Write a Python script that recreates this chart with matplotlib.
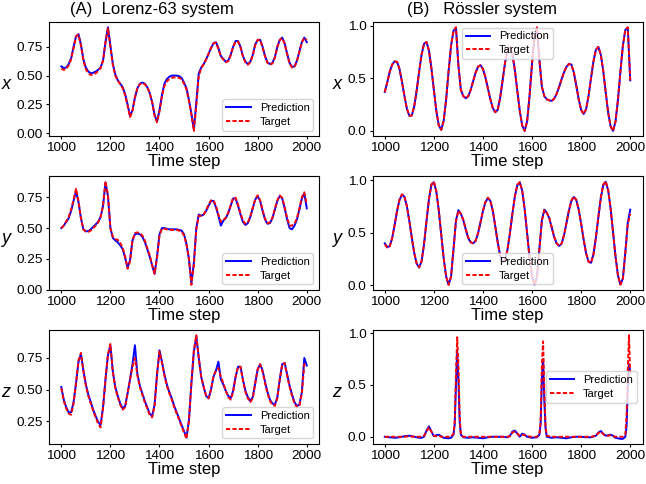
import numpy as np
import matplotlib
matplotlib.use("Agg")
import matplotlib.pyplot as plt

plt.rcParams["font.family"] = ["Liberation Sans", "DejaVu Sans"]

# time steps shared by the Lorenz and Rossler x/y panels (every 10 steps)
time_step = np.arange(1000, 2001, 10)

# (A) Lorenz-63
lorenz_x_pred = [
    0.58, 0.565, 0.57, 0.60, 0.65, 0.75, 0.84, 0.86, 0.77, 0.64,
    0.57, 0.535, 0.52, 0.525, 0.535, 0.55, 0.57, 0.63, 0.79, 0.92,
    0.76, 0.60, 0.51, 0.46, 0.43, 0.40, 0.34, 0.25, 0.15, 0.20,
    0.31, 0.39, 0.43, 0.44, 0.43, 0.40, 0.35, 0.27, 0.16, 0.10,
    0.20, 0.33, 0.43, 0.47, 0.49, 0.50, 0.50, 0.50, 0.495, 0.48,
    0.44, 0.39, 0.29, 0.17, 0.03, 0.27, 0.52, 0.57, 0.60, 0.64,
    0.69, 0.74, 0.78, 0.79, 0.74, 0.67, 0.645, 0.62, 0.63, 0.68,
    0.75, 0.80, 0.80, 0.75, 0.67, 0.62, 0.60, 0.62, 0.68, 0.77,
    0.81, 0.81, 0.75, 0.67, 0.615, 0.60, 0.61, 0.66, 0.75, 0.81,
    0.83, 0.78, 0.69, 0.61, 0.575, 0.58, 0.63, 0.71, 0.79, 0.83,
    0.79,
]
lorenz_x_target = [
    0.56, 0.55, 0.555, 0.59, 0.64, 0.74, 0.84, 0.855, 0.76, 0.63,
    0.555, 0.52, 0.505, 0.51, 0.52, 0.54, 0.565, 0.63, 0.79, 0.91,
    0.75, 0.59, 0.50, 0.455, 0.425, 0.39, 0.33, 0.24, 0.14, 0.19,
    0.31, 0.39, 0.425, 0.435, 0.425, 0.40, 0.35, 0.27, 0.15, 0.095,
    0.19, 0.32, 0.41, 0.45, 0.47, 0.48, 0.485, 0.485, 0.48, 0.47,
    0.43, 0.38, 0.28, 0.16, 0.02, 0.24, 0.50, 0.56, 0.60, 0.64,
    0.69, 0.74, 0.78, 0.785, 0.73, 0.665, 0.64, 0.615, 0.625, 0.675,
    0.75, 0.795, 0.795, 0.745, 0.665, 0.615, 0.595, 0.615, 0.675, 0.765,
    0.81, 0.81, 0.745, 0.665, 0.61, 0.595, 0.605, 0.655, 0.745, 0.81,
    0.825, 0.775, 0.685, 0.605, 0.57, 0.575, 0.625, 0.705, 0.79, 0.825,
    0.81,
]
lorenz_y_pred = [
    0.50, 0.52, 0.55, 0.58, 0.64, 0.72, 0.80, 0.71, 0.58, 0.49,
    0.475, 0.475, 0.49, 0.51, 0.53, 0.55, 0.59, 0.68, 0.87, 0.76,
    0.50, 0.42, 0.40, 0.385, 0.36, 0.33, 0.26, 0.18, 0.24, 0.40,
    0.45, 0.455, 0.45, 0.43, 0.39, 0.33, 0.27, 0.20, 0.13, 0.27,
    0.45, 0.50, 0.50, 0.495, 0.49, 0.49, 0.49, 0.49, 0.485, 0.48,
    0.45, 0.37, 0.25, 0.05, 0.22, 0.50, 0.61, 0.60, 0.61, 0.64,
    0.68, 0.72, 0.72, 0.67, 0.60, 0.52, 0.56, 0.58, 0.62, 0.68,
    0.74, 0.74, 0.68, 0.61, 0.55, 0.525, 0.54, 0.59, 0.66, 0.73,
    0.76, 0.72, 0.64, 0.57, 0.535, 0.54, 0.58, 0.65, 0.72, 0.76,
    0.74, 0.66, 0.57, 0.50, 0.49, 0.52, 0.57, 0.65, 0.74, 0.78,
    0.66,
]
lorenz_y_target = [
    0.50, 0.52, 0.555, 0.59, 0.65, 0.73, 0.82, 0.72, 0.58, 0.49,
    0.47, 0.47, 0.48, 0.50, 0.52, 0.545, 0.59, 0.68, 0.88, 0.77,
    0.50, 0.43, 0.41, 0.405, 0.38, 0.34, 0.27, 0.17, 0.23, 0.40,
    0.46, 0.465, 0.46, 0.44, 0.40, 0.34, 0.28, 0.20, 0.13, 0.26,
    0.44, 0.495, 0.495, 0.49, 0.485, 0.485, 0.485, 0.485, 0.48, 0.47,
    0.44, 0.37, 0.25, 0.04, 0.20, 0.49, 0.60, 0.60, 0.61, 0.645,
    0.69, 0.725, 0.725, 0.68, 0.61, 0.55, 0.565, 0.585, 0.625, 0.685,
    0.745, 0.745, 0.69, 0.62, 0.56, 0.535, 0.545, 0.595, 0.665, 0.735,
    0.765, 0.725, 0.645, 0.575, 0.54, 0.545, 0.585, 0.655, 0.725, 0.765,
    0.745, 0.67, 0.58, 0.52, 0.52, 0.535, 0.58, 0.66, 0.75, 0.79,
    0.69,
]
lorenz_z_pred = [
    0.52, 0.42, 0.36, 0.32, 0.32, 0.40, 0.55, 0.72, 0.78, 0.65,
    0.54, 0.46, 0.40, 0.34, 0.29, 0.245, 0.22, 0.36, 0.58, 0.77,
    0.85, 0.64, 0.52, 0.45, 0.39, 0.35, 0.37, 0.47, 0.58, 0.70,
    0.85, 0.62, 0.53, 0.47, 0.41, 0.36, 0.31, 0.29, 0.38, 0.62,
    0.81, 0.72, 0.62, 0.54, 0.48, 0.43, 0.37, 0.32, 0.27, 0.22,
    0.17, 0.12, 0.26, 0.55, 0.80, 0.92, 0.75, 0.60, 0.52, 0.45,
    0.43, 0.50, 0.60, 0.65, 0.72, 0.58, 0.54, 0.49, 0.45, 0.43,
    0.49, 0.60, 0.68, 0.68, 0.58, 0.49, 0.44, 0.41, 0.44, 0.55,
    0.66, 0.70, 0.65, 0.56, 0.48, 0.42, 0.39, 0.38, 0.44, 0.58,
    0.70, 0.71, 0.62, 0.53, 0.46, 0.40, 0.37, 0.38, 0.48, 0.75,
    0.69,
]
lorenz_z_target = [
    0.51, 0.41, 0.35, 0.31, 0.30, 0.39, 0.55, 0.73, 0.79, 0.65,
    0.53, 0.45, 0.39, 0.33, 0.28, 0.23, 0.20, 0.35, 0.58, 0.78,
    0.86, 0.64, 0.51, 0.44, 0.38, 0.34, 0.36, 0.47, 0.58, 0.68,
    0.75, 0.61, 0.52, 0.46, 0.40, 0.35, 0.30, 0.28, 0.37, 0.62,
    0.80, 0.71, 0.61, 0.53, 0.47, 0.42, 0.36, 0.31, 0.26, 0.21,
    0.16, 0.11, 0.25, 0.55, 0.81, 0.93, 0.75, 0.60, 0.52, 0.45,
    0.43, 0.50, 0.61, 0.65, 0.67, 0.60, 0.55, 0.49, 0.44, 0.42,
    0.48, 0.60, 0.68, 0.68, 0.57, 0.48, 0.43, 0.40, 0.43, 0.55,
    0.66, 0.70, 0.64, 0.55, 0.47, 0.41, 0.38, 0.37, 0.43, 0.58,
    0.70, 0.71, 0.61, 0.52, 0.45, 0.39, 0.36, 0.37, 0.47, 0.70,
    0.71,
]

# (B) Rossler
rossler_x_pred = [
    0.37, 0.46, 0.56, 0.63, 0.66, 0.656, 0.588, 0.468, 0.332, 0.212,
    0.144, 0.146, 0.233, 0.385, 0.564, 0.725, 0.828, 0.845, 0.763, 0.595,
    0.388, 0.19, 0.053, 0.01, 0.097, 0.30, 0.567, 0.81, 0.95, 0.98,
    0.62, 0.39, 0.33, 0.31, 0.329, 0.389, 0.472, 0.553, 0.61, 0.624,
    0.589, 0.509, 0.405, 0.301, 0.218, 0.177, 0.20, 0.315, 0.479, 0.649,
    0.768, 0.799, 0.728, 0.576, 0.38, 0.188, 0.05, 0.0, 0.093, 0.338,
    0.642, 0.887, 0.98, 0.67, 0.42, 0.33, 0.30, 0.29, 0.285, 0.306,
    0.351, 0.416, 0.488, 0.556, 0.608, 0.636, 0.63, 0.557, 0.434, 0.30,
    0.199, 0.16, 0.205, 0.33, 0.497, 0.659, 0.77, 0.798, 0.726, 0.569,
    0.37, 0.176, 0.043, 0.0, 0.088, 0.297, 0.564, 0.81, 0.96, 0.98,
    0.48,
]
rossler_x_target = [
    0.37, 0.46, 0.56, 0.63, 0.66, 0.656, 0.588, 0.468, 0.332, 0.212,
    0.144, 0.146, 0.233, 0.385, 0.564, 0.725, 0.828, 0.845, 0.763, 0.595,
    0.388, 0.19, 0.053, 0.01, 0.097, 0.30, 0.567, 0.81, 0.95, 0.985,
    0.62, 0.39, 0.33, 0.31, 0.329, 0.389, 0.472, 0.553, 0.61, 0.624,
    0.589, 0.509, 0.405, 0.301, 0.218, 0.177, 0.20, 0.315, 0.479, 0.649,
    0.768, 0.799, 0.728, 0.576, 0.38, 0.188, 0.05, 0.0, 0.093, 0.338,
    0.642, 0.887, 0.985, 0.67, 0.42, 0.33, 0.30, 0.29, 0.285, 0.306,
    0.351, 0.416, 0.488, 0.556, 0.608, 0.636, 0.63, 0.557, 0.434, 0.30,
    0.199, 0.16, 0.205, 0.33, 0.497, 0.659, 0.77, 0.798, 0.726, 0.569,
    0.37, 0.176, 0.043, 0.0, 0.088, 0.297, 0.564, 0.81, 0.96, 0.985,
    0.48,
]
rossler_y_pred = [
    0.40, 0.365, 0.373, 0.449, 0.572, 0.706, 0.813, 0.863, 0.842, 0.752,
    0.613, 0.454, 0.308, 0.207, 0.17, 0.23, 0.392, 0.611, 0.817, 0.955,
    0.98, 0.892, 0.712, 0.483, 0.257, 0.085, 0.007, 0.084, 0.345, 0.616,
    0.715, 0.68, 0.62, 0.53, 0.45, 0.41, 0.40, 0.423, 0.495, 0.599,
    0.706, 0.79, 0.829, 0.804, 0.708, 0.564, 0.411, 0.286, 0.224, 0.241,
    0.341, 0.50, 0.682, 0.845, 0.952, 0.978, 0.898, 0.723, 0.493, 0.263,
    0.088, 0.008, 0.084, 0.35, 0.62, 0.72, 0.69, 0.64, 0.55, 0.46,
    0.40, 0.375, 0.396, 0.474, 0.589, 0.709, 0.801, 0.84, 0.812, 0.72,
    0.585, 0.438, 0.308, 0.227, 0.215, 0.294, 0.452, 0.647, 0.83, 0.952,
    0.984, 0.904, 0.732, 0.504, 0.276, 0.094, 0.01, 0.066, 0.317, 0.597,
    0.72,
]
rossler_y_target = [
    0.39, 0.36, 0.37, 0.447, 0.572, 0.708, 0.815, 0.865, 0.845, 0.755,
    0.615, 0.455, 0.31, 0.208, 0.172, 0.232, 0.394, 0.614, 0.822, 0.96,
    0.985, 0.895, 0.714, 0.484, 0.258, 0.085, 0.006, 0.083, 0.343, 0.61,
    0.71, 0.68, 0.625, 0.535, 0.455, 0.412, 0.40, 0.424, 0.497, 0.602,
    0.71, 0.795, 0.834, 0.808, 0.71, 0.565, 0.41, 0.284, 0.222, 0.24,
    0.341, 0.50, 0.684, 0.848, 0.957, 0.982, 0.9, 0.724, 0.492, 0.262,
    0.087, 0.007, 0.083, 0.348, 0.615, 0.715, 0.69, 0.645, 0.555, 0.462,
    0.402, 0.376, 0.397, 0.476, 0.592, 0.712, 0.805, 0.845, 0.815, 0.722,
    0.586, 0.438, 0.307, 0.226, 0.214, 0.294, 0.453, 0.65, 0.835, 0.958,
    0.99, 0.908, 0.734, 0.504, 0.275, 0.093, 0.008, 0.064, 0.31, 0.58,
    0.68,
]

# Rossler z is flat with narrow spikes, so it gets its own denser time grid
rossler_z_time = [
    1000, 1020, 1040, 1060, 1080, 1100, 1120, 1140, 1150, 1160,
    1170, 1180, 1190, 1200, 1210, 1220, 1230, 1240, 1260, 1270,
    1280, 1285, 1290, 1295, 1300, 1305, 1310, 1320, 1340, 1360,
    1380, 1400, 1420, 1440, 1460, 1480, 1500, 1510, 1520, 1530,
    1540, 1550, 1560, 1570, 1580, 1600, 1620, 1630, 1635, 1640,
    1645, 1650, 1655, 1660, 1680, 1700, 1720, 1740, 1760, 1780,
    1800, 1820, 1840, 1860, 1870, 1880, 1890, 1900, 1910, 1920,
    1930, 1940, 1960, 1970, 1980, 1985, 1990, 1995, 2000,
]
rossler_z_pred = [
    0.0, -0.005, -0.01, -0.005, 0.005, 0.01, 0.0, -0.01, -0.01, 0.0,
    0.06, 0.10, 0.05, 0.005, 0.015, 0.02, 0.005, -0.01, -0.015, -0.01,
    0.02, 0.12, 0.50, 0.82, 0.55, 0.15, 0.02, -0.005, -0.01, -0.005,
    -0.01, -0.015, -0.005, 0.0, 0.0, 0.0, -0.005, 0.01, 0.05, 0.06,
    0.03, 0.0, 0.03, 0.02, 0.0, -0.01, -0.005, 0.02, 0.12, 0.55,
    0.75, 0.35, 0.08, 0.0, -0.01, -0.005, -0.01, -0.015, -0.005, 0.0,
    0.0, -0.005, -0.005, 0.01, 0.04, 0.055, 0.03, 0.01, 0.015, 0.02,
    0.01, -0.01, -0.02, -0.02, 0.0, 0.10, 0.45, 0.70, 0.62,
]
rossler_z_target = [
    0.0, 0.0, 0.0, 0.0, 0.0, 0.005, 0.0, 0.0, 0.0, 0.01,
    0.05, 0.09, 0.05, 0.01, 0.005, 0.01, 0.0, 0.0, 0.0, 0.0,
    0.03, 0.15, 0.60, 0.96, 0.70, 0.20, 0.02, 0.0, 0.0, 0.0,
    0.0, 0.0, 0.0, 0.0, 0.0, 0.0, 0.0, 0.005, 0.04, 0.05,
    0.03, 0.01, 0.02, 0.015, 0.005, 0.0, 0.0, 0.03, 0.15, 0.70,
    0.92, 0.45, 0.10, 0.01, 0.0, 0.0, 0.0, 0.0, 0.0, 0.0,
    0.0, 0.0, 0.0, 0.01, 0.035, 0.05, 0.025, 0.01, 0.01, 0.015,
    0.005, 0.0, 0.0, 0.0, 0.02, 0.20, 0.65, 0.98, 0.58,
]

panels = [
    # row, col, label, t, prediction, target, legend location
    (0, 0, "x", time_step, lorenz_x_pred, lorenz_x_target, "lower right"),
    (1, 0, "y", time_step, lorenz_y_pred, lorenz_y_target, "lower right"),
    (2, 0, "z", time_step, lorenz_z_pred, lorenz_z_target, "lower right"),
    (0, 1, "x", time_step, rossler_x_pred, rossler_x_target, "upper center"),
    (1, 1, "y", time_step, rossler_y_pred, rossler_y_target, "lower center"),
    (2, 1, "z", rossler_z_time, rossler_z_pred, rossler_z_target, "center right"),
]

fig, axes = plt.subplots(3, 2, figsize=(6.46, 4.84), dpi=100)
fig.subplots_adjust(left=0.0759, right=0.9946, top=0.9545, bottom=0.0826,
                    wspace=0.198, hspace=0.35)

for row, col, name, t, pred, target, loc in panels:
    ax = axes[row, col]
    ax.plot(t, pred, color="blue", lw=1.4, label="Prediction")
    ax.plot(t, target, color="red", ls="--", dashes=(2.2, 1.1), lw=1.4,
            label="Target")
    ax.set_xticks([1000, 1200, 1400, 1600, 1800, 2000])
    ax.tick_params(labelsize=9.7, length=2.5, pad=1.8)
    ax.set_xlabel("Time step", fontsize=12, labelpad=0)
    ax.set_ylabel(name, fontsize=13, fontstyle="italic", rotation=0,
                  ha="right", va="center", labelpad=4.5)
    ax.yaxis.label.set_y(0.45)
    ax.legend(loc=loc, fontsize=8, handlelength=2.2, labelspacing=0.3,
              borderpad=0.35)

axes[0, 0].set_title("(A)  Lorenz-63 system", fontsize=12, x=0.38)
axes[0, 1].set_title("(B)   Rössler system", fontsize=12, x=0.405)

fig.savefig("out.png", dpi=100)
